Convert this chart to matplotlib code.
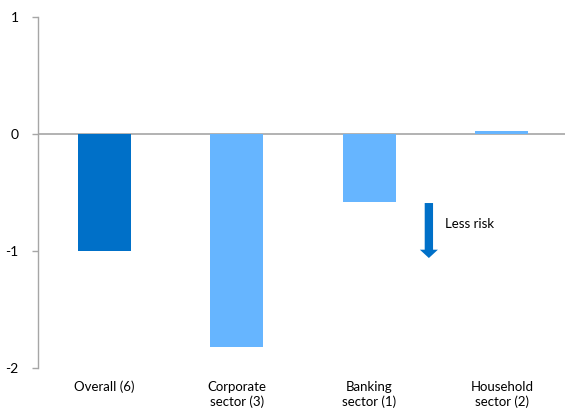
import matplotlib
matplotlib.use("Agg")
import matplotlib.pyplot as plt

categories = ["Overall (6)", "Corporate\nsector (3)", "Banking\nsector (1)", "Household\nsector (2)"]
values = [-1.0, -1.82, -0.58, 0.025]
colors = ["#0070C8", "#66B5FF", "#66B5FF", "#66B5FF"]
yticks = [-2, -1, 0, 1]

plt.rcParams["font.family"] = ["Lato", "DejaVu Sans"]

fig = plt.figure(figsize=(5.65, 4.11), dpi=100)
ax = fig.add_axes([38 / 565, 43 / 411, 530 / 565, 351 / 411])

x = list(range(len(categories)))
ax.bar(x, values, width=0.4, color=colors, zorder=2)
ax.axhline(0, color="#A6A6A6", lw=1.2, zorder=1)

ax.set_xlim(-0.5, 3.5)
ax.set_ylim(-2, 1)
ax.set_yticks(yticks)
ax.set_yticklabels([str(v) for v in yticks], fontsize=10)
ax.set_xticks(x)
ax.set_xticklabels(categories, fontsize=9.5, linespacing=1.25, va="top")
ax.tick_params(axis="x", length=0, pad=9)
ax.tick_params(axis="y", direction="out", length=4, width=1, color="#A6A6A6", pad=10)

for side in ["top", "right", "bottom"]:
    ax.spines[side].set_visible(False)
ax.spines["left"].set_color("#A6A6A6")
ax.spines["left"].set_linewidth(1)

# "Less risk" direction marker
ax.annotate("", xy=(2.45, -1.06), xytext=(2.45, -0.59),
            arrowprops=dict(arrowstyle="simple,head_length=0.6,head_width=1.3,tail_width=0.6",
                            mutation_scale=10, color="#0070C8", lw=0, shrinkA=0, shrinkB=0))
ax.text(2.57, -0.77, "Less risk", fontsize=9.5, va="center", ha="left")

fig.savefig("out.png", dpi=100)
